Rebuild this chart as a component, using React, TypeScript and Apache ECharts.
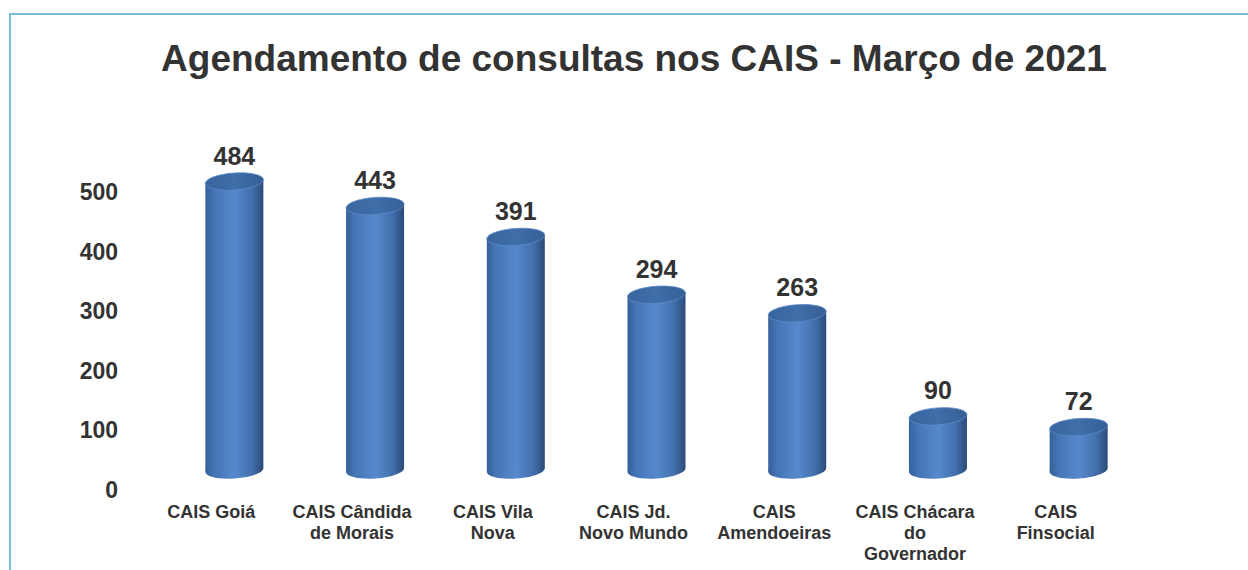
import React, { useEffect, useRef } from "react";
import * as echarts from "echarts";

const titleText = "Agendamento de consultas nos CAIS - Março de 2021";
const categories = [
  "CAIS Goiá",
  "CAIS Cândida\nde Morais",
  "CAIS Vila\nNova",
  "CAIS Jd.\nNovo Mundo",
  "CAIS\nAmendoeiras",
  "CAIS Chácara\ndo\nGovernador",
  "CAIS\nFinsocial",
];
const values = [484, 443, 391, 294, 263, 90, 72];
const yMin = 0;
const yMax = 500;
const yInterval = 100;

const FONT = "'Liberation Sans', Arial, sans-serif";

export default function App() {
  const ref = useRef<HTMLDivElement>(null);
  useEffect(() => {
    if (!ref.current) return;
    const chart = echarts.init(ref.current, undefined, { renderer: "svg" });
    const depth = 20;
    const rx = 29;
    const ry = 8.5;
    const tilt = 0.07;
    const d = Math.sin(tilt) * rx;
    chart.setOption({
      animation: false,
      backgroundColor: "#ffffff",
      graphic: [
        {
          type: "rect",
          shape: { x: 10, y: 14, width: 1260, height: 600 },
          style: { fill: "none", stroke: "#74c0da", lineWidth: 2 },
          silent: true,
        },
        {
          type: "text",
          x: 634,
          y: 58,
          style: {
            text: titleText,
            fontFamily: FONT,
            fontSize: 37,
            fontWeight: "bold",
            fill: "#333333",
            align: "center",
            verticalAlign: "middle",
          },
        },
      ],
      grid: { left: 164, right: 99, top: 192, bottom: 80 },
      xAxis: {
        type: "category",
        data: categories,
        axisLine: { show: false },
        axisTick: { show: false },
        axisLabel: {
          interval: 0,
          margin: 11,
          padding: [0, 46, 0, 0],
          fontFamily: FONT,
          fontSize: 18,
          fontWeight: "bold",
          lineHeight: 21,
          color: "#333333",
        },
      },
      yAxis: {
        type: "value",
        min: yMin,
        max: yMax,
        interval: yInterval,
        splitLine: { show: false },
        axisLine: { show: false },
        axisTick: { show: false },
        axisLabel: {
          margin: 46,
          fontFamily: FONT,
          fontSize: 23,
          fontWeight: "bold",
          color: "#333333",
        },
      },
      series: [
        {
          type: "custom",
          clip: false,
          data: values.map((v, i) => [i, v]),
          encode: { x: 0, y: 1 },
          renderItem: (params: any, api: any) => {
            const idx = api.value(0);
            const v = api.value(1);
            const base = api.coord([idx, 0]);
            const top = api.coord([idx, v]);
            const cx = base[0];
            const by = base[1] - depth;
            const ty = top[1] - depth;
            const bodyGrad = new echarts.graphic.LinearGradient(0, 0, 1, 0, [
              { offset: 0, color: "#35609a" },
              { offset: 0.15, color: "#4475b5" },
              { offset: 0.5, color: "#5689cc" },
              { offset: 0.8, color: "#4370ad" },
              { offset: 1, color: "#2b4a78" },
            ]);
            const topGrad = new echarts.graphic.LinearGradient(0, 0, 1, 0, [
              { offset: 0, color: "#3a659f" },
              { offset: 0.5, color: "#3f6ea9" },
              { offset: 1, color: "#365f96" },
            ]);
            return {
              type: "group",
              children: [
                {
                  type: "ellipse",
                  x: cx,
                  y: by,
                  rotation: tilt,
                  shape: { cx: 0, cy: 0, rx: rx, ry: ry },
                  style: { fill: bodyGrad },
                },
                {
                  type: "polygon",
                  shape: {
                    points: [
                      [cx - rx, ty + d],
                      [cx + rx, ty - d],
                      [cx + rx, by - d],
                      [cx - rx, by + d],
                    ],
                  },
                  style: { fill: bodyGrad },
                },
                {
                  type: "ellipse",
                  x: cx,
                  y: ty,
                  rotation: tilt,
                  shape: { cx: 0, cy: 0, rx: rx, ry: ry },
                  style: { fill: topGrad, stroke: "#5a8cc8", lineWidth: 0.8 },
                },
                {
                  type: "text",
                  x: cx,
                  y: ty - 26,
                  style: {
                    text: String(v),
                    fontFamily: FONT,
                    fontSize: 25,
                    fontWeight: "bold",
                    fill: "#333333",
                    align: "center",
                    verticalAlign: "middle",
                  },
                },
              ],
            };
          },
        },
      ],
    });
    return () => chart.dispose();
  }, []);
  return (
    <div
      ref={ref}
      style={{ position: "fixed", left: 0, top: 0, width: 1248, height: 570 }}
    />
  );
}
